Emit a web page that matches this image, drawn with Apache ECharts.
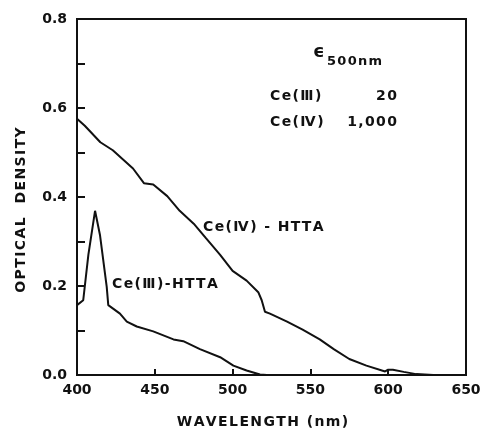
<!DOCTYPE html>
<html lang="en">
<head>
    <meta charset="UTF-8">
    <title>Optical density</title>
    <script src="https://cdn.jsdelivr.net/npm/echarts@6/dist/echarts.min.js"></script>
</head>
<body style="margin:0;background:#fff">
<div id="demo" style="width:485px;height:434px;"></div>
<script type="text/javascript">
// Ce(IV)-HTTA curve
var ce4Wl = [400, 405, 415, 423, 436, 443, 449, 458, 466, 475, 483, 492, 500, 509, 516.5, 518.7, 520.8, 524, 535, 545, 556, 565, 575, 586, 598, 600, 603, 610, 618, 629];
var ce4Od = [0.576, 0.560, 0.523, 0.505, 0.464, 0.431, 0.428, 0.402, 0.369, 0.340, 0.307, 0.270, 0.234, 0.212, 0.186, 0.168, 0.142, 0.138, 0.120, 0.102, 0.080, 0.058, 0.036, 0.021, 0.008, 0.012, 0.012, 0.007, 0.002, 0.0];
// Ce(III)-HTTA curve
var ce3Wl = [400, 404, 407.3, 411.6, 414.8, 419.1, 420.1, 427.6, 432, 438.4, 449, 462, 468.3, 479, 492, 500.5, 509, 517.6, 522];
var ce3Od = [0.157, 0.168, 0.270, 0.369, 0.314, 0.198, 0.157, 0.138, 0.120, 0.109, 0.098, 0.080, 0.076, 0.058, 0.040, 0.021, 0.010, 0.001, 0.0];
var xTicks = [400, 450, 500, 550, 600, 650];
var yLabels = ['0.0', '0.2', '0.4', '0.6', '0.8'];

function pairs(xs, ys) {
    var out = [];
    for (var i = 0; i < xs.length; i++) out.push([xs[i], ys[i]]);
    return out;
}
// the original lettering is widely spaced
function spaced(s) {
    return s.split('').join('\u200A');
}

var ink = '#111';
var font = '"DejaVu Sans", sans-serif';
var myChart = echarts.init(document.getElementById('demo'));
var option = {
    backgroundColor: '#fff',
    animation: false,
    grid: {
        left: 77, right: 19, top: 19, bottom: 51,
        show: true, borderColor: ink, borderWidth: 2
    },
    xAxis: {
        type: 'value', min: 400, max: 650, interval: 50,
        name: spaced('WAVELENGTH (nm)'), nameLocation: 'middle', nameGap: 40,
        nameTextStyle: {color: ink, fontFamily: font, fontWeight: 'bold', fontSize: 14, padding: [0, 18, 0, 0]},
        axisLine: {lineStyle: {color: ink, width: 2}},
        axisTick: {inside: true, length: 6, lineStyle: {color: ink, width: 2}},
        axisLabel: {color: ink, fontFamily: font, fontWeight: 'bold', fontSize: 14, margin: 8,
            formatter: function (v) { return xTicks.indexOf(v) >= 0 ? String(v) : ''; }},
        splitLine: {show: false}
    },
    yAxis: {
        type: 'value', min: 0, max: 0.8, interval: 0.1,
        name: spaced('OPTICAL  DENSITY'), nameLocation: 'middle', nameGap: 49,
        nameTextStyle: {color: ink, fontFamily: font, fontWeight: 'bold', fontSize: 14, padding: [0, 26, 0, 0]},
        axisLine: {lineStyle: {color: ink, width: 2}},
        axisTick: {inside: true, length: 8, lineStyle: {color: ink, width: 2}},
        axisLabel: {color: ink, fontFamily: font, fontWeight: 'bold', fontSize: 14, margin: 10,
            formatter: function (v) {
                var s = v.toFixed(1);
                return yLabels.indexOf(s) >= 0 ? s : '';
            }},
        splitLine: {show: false}
    },
    series: [
        {
            name: 'Ce(IV)-HTTA', type: 'line', data: pairs(ce4Wl, ce4Od),
            showSymbol: false, lineStyle: {color: ink, width: 2}
        },
        {
            name: 'Ce(III)-HTTA', type: 'line', data: pairs(ce3Wl, ce3Od),
            showSymbol: false, lineStyle: {color: ink, width: 2}
        }
    ],
    graphic: [
        {type: 'text', left: 203, top: 220, style: {text: spaced('Ce(Ⅳ) - HTTA'), fill: ink, font: 'bold 14px ' + font}},
        {type: 'text', left: 112, top: 277, style: {text: spaced('Ce(Ⅲ)-HTTA'), fill: ink, font: 'bold 14px ' + font}},
        {type: 'text', left: 313, top: 43, style: {text: 'ϵ', fill: ink, font: 'bold 18px ' + font}},
        {type: 'text', left: 327, top: 55, style: {text: spaced('500nm'), fill: ink, font: 'bold 13px ' + font}},
        {type: 'text', left: 270, top: 89, style: {text: spaced('Ce(Ⅲ)'), fill: ink, font: 'bold 14px ' + font}},
        {type: 'text', right: 88, top: 89, style: {text: spaced('20'), fill: ink, font: 'bold 14px ' + font}},
        {type: 'text', left: 270, top: 115, style: {text: spaced('Ce(Ⅳ)'), fill: ink, font: 'bold 14px ' + font}},
        {type: 'text', right: 88, top: 115, style: {text: spaced('1,000'), fill: ink, font: 'bold 14px ' + font}}
    ]
};
myChart.setOption(option);
</script>
</body>
</html>
